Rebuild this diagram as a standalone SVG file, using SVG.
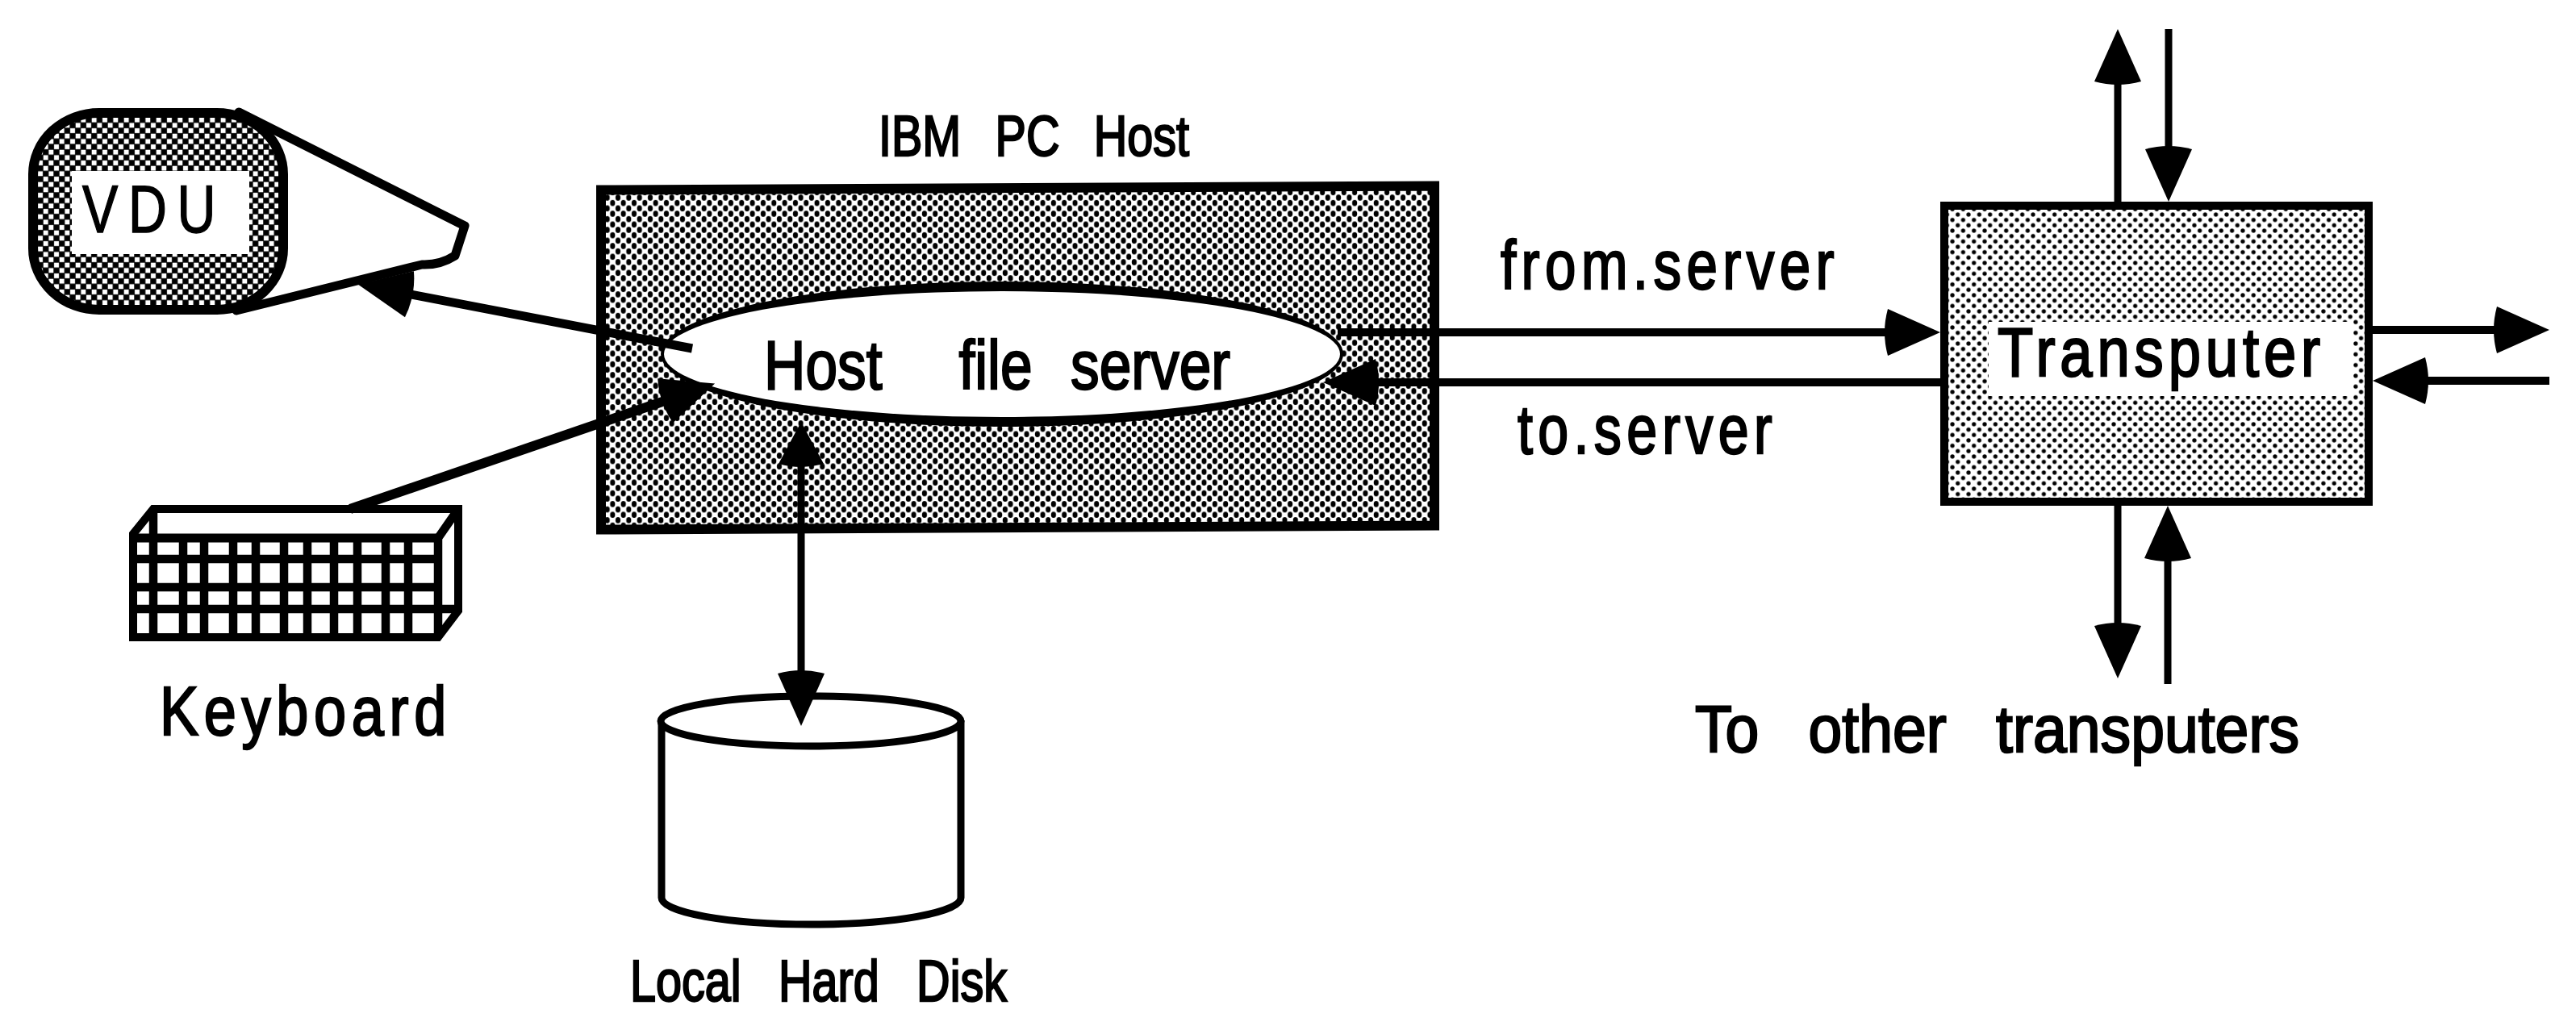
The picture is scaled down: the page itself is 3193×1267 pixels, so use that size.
<svg xmlns="http://www.w3.org/2000/svg" width="3193" height="1267" viewBox="0 0 3193 1267">
  <style>
    text{font-family:"Liberation Sans",Arial,sans-serif;fill:#000;stroke:#000;stroke-width:2.4;white-space:pre}
    .ln{fill:#fff;stroke:#000;stroke-width:11;stroke-linejoin:round}
    .conn{fill:none;stroke:#000;stroke-width:10}
    .thin{stroke-width:9}
    .key{fill:none;stroke:#000;stroke-width:10.5}
  </style>
  <defs>
    <pattern id="dotsDense" patternUnits="userSpaceOnUse" width="13.33" height="13.33" x="766" y="245">
      <rect width="13.33" height="13.33" fill="#fff"/>
      <ellipse cx="0" cy="0" rx="3.1" ry="3.9"/><ellipse cx="13.33" cy="0" rx="3.1" ry="3.9"/>
      <ellipse cx="0" cy="13.33" rx="3.1" ry="3.9"/><ellipse cx="13.33" cy="13.33" rx="3.1" ry="3.9"/>
      <ellipse cx="6.67" cy="6.67" rx="3.1" ry="3.9"/>
    </pattern>
    <pattern id="dotsLight" patternUnits="userSpaceOnUse" width="13.33" height="13.33" x="2426.7" y="266">
      <rect width="13.33" height="13.33" fill="#fff"/>
      <circle cx="0" cy="0" r="2.6"/><circle cx="13.33" cy="0" r="2.6"/>
      <circle cx="0" cy="13.33" r="2.6"/><circle cx="13.33" cy="13.33" r="2.6"/>
      <circle cx="6.67" cy="6.67" r="2.6"/>
    </pattern>
    <pattern id="checks" patternUnits="userSpaceOnUse" width="13.33" height="13.33" x="90" y="162">
      <rect width="13.33" height="13.33" fill="#000"/>
      <rect x="-3" y="-3" width="6" height="6" fill="#fff"/><rect x="10.33" y="-3" width="6" height="6" fill="#fff"/>
      <rect x="-3" y="10.33" width="6" height="6" fill="#fff"/><rect x="10.33" y="10.33" width="6" height="6" fill="#fff"/>
      <rect x="3.67" y="3.67" width="6" height="6" fill="#fff"/>
    </pattern>
    <marker id="head" markerUnits="userSpaceOnUse" viewBox="-8 -32 80 64" markerWidth="80" markerHeight="64" refX="30" refY="0" orient="auto-start-reverse">
      <path d="M65,0 L0,-29 Q-8,0 0,29 Z"/>
    </marker>
    <marker id="headShort" markerUnits="userSpaceOnUse" viewBox="-8 -32 80 64" markerWidth="80" markerHeight="64" refX="17" refY="0" orient="auto-start-reverse">
      <path d="M52,0 L0,-28 Q-8,0 0,28 Z"/>
    </marker>
  </defs>
  <rect width="3193" height="1267" fill="#fff"/>

  <g id="vdu">
    <path class="ln" d="M296,139 L576,280 L564,317 Q545,329 523,328 L293,385 Z"/>
    <rect x="41" y="140" width="310" height="244" rx="82" ry="76" fill="url(#checks)" stroke="#000" stroke-width="12"/>
    <rect x="89" y="212" width="220" height="103" fill="#fff"/>
    <text x="102" y="288" font-size="84" textLength="178" lengthAdjust="spacingAndGlyphs" style="letter-spacing:16px;stroke-width:1.5">VDU</text>
  </g>

  <g id="keyboard">
    <path d="M165,662 L190,631 L568,631 L568,757 L543,790 L165,790 Z" fill="#fff" stroke="#000" stroke-width="10"/>
    <path class="key" d="M190,631V667M543,667V790M543,667L568,631M543,755H568"/>
    <path class="key" style="stroke-width:11" d="M165,667H543"/>
    <path class="key" d="M165,693H543M165,728H543M165,755H543"/>
    <path class="key" d="M190,667V790M227,667V790M253,667V790M289,667V790M317,667V790M352,667V790M381,667V790M414,667V790M443,667V790M478,667V790M506,667V790"/>
  </g>
  <text id="keyboard-label" x="198" y="911" font-size="86" textLength="362" lengthAdjust="spacingAndGlyphs" style="letter-spacing:8px">Keyboard</text>

  <g id="host">
    <polygon points="745,235.5 1778,230.5 1778,651.5 745,656.5" fill="url(#dotsDense)" stroke="#000" stroke-width="12"/>
    <text x="1089" y="193" font-size="70" textLength="385" lengthAdjust="spacingAndGlyphs" style="word-spacing:32px">IBM PC Host</text>
  </g>

  <g id="file-server">
    <ellipse cx="1242" cy="439" rx="423" ry="90"/>
    <ellipse cx="1242" cy="439" rx="419" ry="78" fill="#fff"/>
    <text x="947" y="482" font-size="85" textLength="578" lengthAdjust="spacingAndGlyphs" xml:space="preserve" style="word-spacing:33px">Host  file server</text>
  </g>

  <g id="disk">
    <path d="M820,893 V1113 A185.5,33 0 0 0 1191,1113 V893" fill="#fff" stroke="#000" stroke-width="9"/>
    <ellipse cx="1005" cy="894" rx="186" ry="31" fill="#fff" stroke="#000" stroke-width="9"/>
    <text x="781" y="1241" font-size="72" textLength="467" lengthAdjust="spacingAndGlyphs" style="word-spacing:38px">Local Hard Disk</text>
  </g>

  <g id="transputer">
    <rect x="2410" y="255" width="526" height="367" fill="url(#dotsLight)" stroke="#000" stroke-width="10"/>
    <rect x="2465" y="399" width="452" height="92" fill="#fff"/>
    <text x="2476" y="466" font-size="86" textLength="406" lengthAdjust="spacingAndGlyphs" style="letter-spacing:7px">Transputer</text>
  </g>

  <text id="from-server" x="1860" y="358" font-size="86" textLength="420" lengthAdjust="spacingAndGlyphs" style="letter-spacing:8px">from.server</text>
  <text id="to-server" x="1881" y="562" font-size="86" textLength="322" lengthAdjust="spacingAndGlyphs" style="letter-spacing:8px">to.server</text>
  <text id="others" x="2101" y="932" font-size="82" textLength="749" lengthAdjust="spacingAndGlyphs" style="word-spacing:44px">To other transputers</text>

  <g id="connectors">
    <line class="conn" style="stroke-width:11" x1="858" y1="432" x2="478" y2="359" marker-end="url(#head)"/>
    <line class="conn" style="stroke-width:12" x1="434" y1="631" x2="853" y2="487" marker-end="url(#head)"/>
    <line class="conn thin" x1="993" y1="558" x2="993" y2="865" marker-start="url(#headShort)" marker-end="url(#head)"/>
    <line class="conn" x1="1658" y1="412" x2="2370" y2="412" marker-end="url(#head)"/>
    <line class="conn" x1="2405" y1="474" x2="1675" y2="474" marker-end="url(#head)"/>
    <line class="conn thin" x1="2625" y1="250" x2="2625" y2="71" marker-end="url(#head)"/>
    <line class="conn thin" x1="2688" y1="36" x2="2688" y2="215" marker-end="url(#head)"/>
    <line class="conn thin" x1="2625" y1="627" x2="2625" y2="806" marker-end="url(#head)"/>
    <line class="conn thin" x1="2687" y1="848" x2="2687" y2="662" marker-end="url(#head)"/>
    <line class="conn" x1="2941" y1="409" x2="3125" y2="409" marker-end="url(#head)"/>
    <line class="conn" x1="3160" y1="472" x2="2976" y2="472" marker-end="url(#head)"/>
  </g>
</svg>
